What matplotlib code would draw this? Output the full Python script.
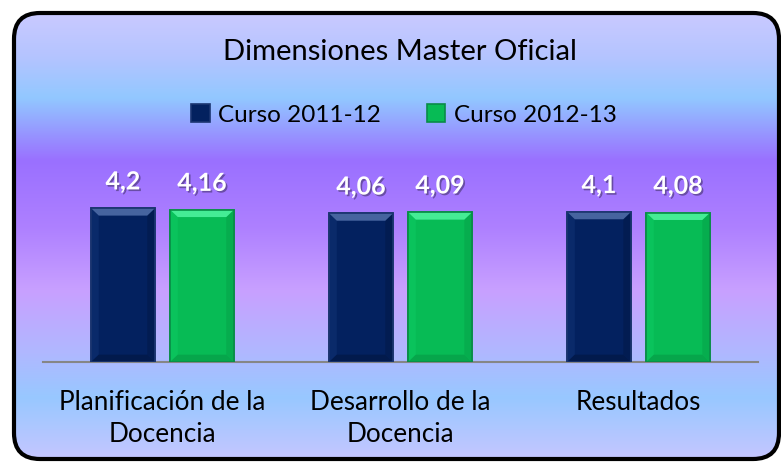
import numpy as np
import matplotlib
matplotlib.use("Agg")
import matplotlib.pyplot as plt
from matplotlib.patches import FancyBboxPatch, Polygon
from matplotlib.colors import LinearSegmentedColormap
import matplotlib.patheffects as pe

categories = ["Planificación de la\nDocencia", "Desarrollo de la\nDocencia", "Resultados"]
series_names = ["Curso 2011-12", "Curso 2012-13"]
values_2011 = [4.2, 4.06, 4.1]
values_2012 = [4.16, 4.09, 4.08]
labels_2011 = ["4,2", "4,06", "4,1"]
labels_2012 = ["4,16", "4,09", "4,08"]
title = "Dimensiones Master Oficial"

plt.rcParams['font.family'] = ['Lato', 'DejaVu Sans']

W, H = 781, 462
fig = plt.figure(figsize=(W / 100, H / 100), dpi=100)
fig.patch.set_facecolor("white")

# background gradient inside rounded box
bg = fig.add_axes([0, 0, 1, 1], zorder=0)
bg.set_xlim(0, W)
bg.set_ylim(H, 0)
bg.axis("off")
stops = [(0.0, "#cacaff"), (0.10, "#b4c4ff"), (0.19, "#92c8ff"), (0.33, "#9a70ff"),
         (0.48, "#ae80ff"), (0.62, "#c8a0ff"), (0.76, "#b0b8ff"), (0.86, "#98c8ff"),
         (1.0, "#c6c6ff")]
cmap = LinearSegmentedColormap.from_list("bg", stops)
grad = np.linspace(0, 1, 256).reshape(-1, 1)
im = bg.imshow(grad, cmap=cmap, aspect="auto", extent=[13, 780, 461, 12], zorder=0)
box = FancyBboxPatch((14, 13), 765, 446, boxstyle="round,pad=0,rounding_size=26",
                     facecolor="none", edgecolor="black", linewidth=3, zorder=2)
bg.add_patch(box)
im.set_clip_path(box)

# main axes
x0, x1 = 43.5, 757.6
ybase, ytop = 362, 362 - 5 * 36.6
ax = fig.add_axes([x0 / W, (H - ybase) / H, (x1 - x0) / W, (ybase - ytop) / H], zorder=1)
ax.patch.set_alpha(0)
ax.set_xlim(-0.5, 2.5)
ax.set_ylim(0, 5)
for s in ["top", "right", "left"]:
    ax.spines[s].set_visible(False)
ax.spines["bottom"].set_color("#868686")
ax.spines["bottom"].set_linewidth(1.5)
ax.set_yticks([])
x = np.arange(len(categories))
ax.set_xticks(x)
ax.set_xticklabels(categories, fontsize=18.8, linespacing=1.35)
ax.tick_params(axis="x", length=0, pad=20)

bw = 0.268
off = 0.166
colors = ["#03215f", "#07bb55"]
edges = ["#1b3570", "#0a8c48"]
bevel_top = ["#46649f", "#45ec95"]
bevel_bot = ["#021a4c", "#06a64b"]
bevel_left = ["#0a2a6a", "#0ac35c"]
bevel_right = ["#021c52", "#06ad4e"]

shadow = [pe.SimplePatchShadow(offset=(1.2, -1.2), shadow_rgbFace="black", alpha=0.35), pe.Normal()]

for i, (vals, labs) in enumerate([(values_2011, labels_2011), (values_2012, labels_2012)]):
    pos = x + (-off if i == 0 else off)
    bars = ax.bar(pos, vals, width=bw, color=colors[i], edgecolor=edges[i], linewidth=1.2,
                  zorder=3, label=series_names[i])
    for b, lab in zip(bars, labs):
        bx, bwid, bh = b.get_x(), b.get_width(), b.get_height()
        dx = bwid * 0.12
        dy = 0.2
        ax.add_patch(Polygon([(bx, bh), (bx + dx, bh - dy), (bx + dx, dy), (bx, 0)],
                             closed=True, facecolor=bevel_left[i], edgecolor="none", zorder=4))
        ax.add_patch(Polygon([(bx + bwid, bh), (bx + bwid - dx, bh - dy), (bx + bwid - dx, dy), (bx + bwid, 0)],
                             closed=True, facecolor=bevel_right[i], edgecolor="none", zorder=4))
        ax.add_patch(Polygon([(bx, bh), (bx + bwid, bh), (bx + bwid - dx, bh - dy), (bx + dx, bh - dy)],
                             closed=True, facecolor=bevel_top[i], edgecolor="none", zorder=4))
        ax.add_patch(Polygon([(bx, 0), (bx + bwid, 0), (bx + bwid - dx, dy), (bx + dx, dy)],
                             closed=True, facecolor=bevel_bot[i], edgecolor="none", zorder=4))
        ax.bar(b.get_x() + bwid / 2, bh, width=bwid, color="none", edgecolor=edges[i],
               linewidth=1.2, zorder=4.5)
        ax.text(bx + bwid / 2, bh + 0.72, lab, ha="center", va="center", color="white",
                fontsize=18, fontweight="bold", zorder=5, path_effects=shadow)

fig.text(400 / W, 1 - 52 / H, title, ha="center", va="center", fontsize=21, color="black")
leg = fig.legend(loc="center", bbox_to_anchor=(404 / W, 1 - 115 / H), ncol=2, frameon=False,
                 fontsize=17.5, handlelength=0.75, handleheight=0.75, handletextpad=0.35,
                 columnspacing=1.9)

fig.savefig("out.png", dpi=100)
